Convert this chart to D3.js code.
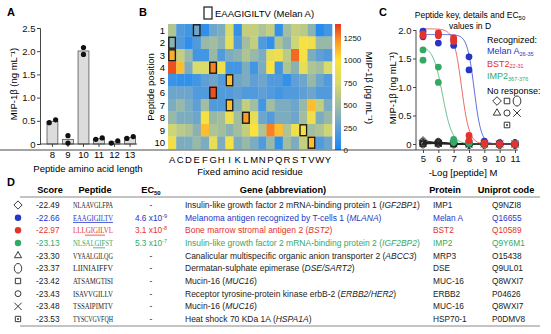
<!DOCTYPE html>
<html>
<head>
<meta charset="utf-8">
<script src="https://cdn.jsdelivr.net/npm/d3@7"></script>
<style>
  html, body { margin: 0; padding: 0; background: #fff; }
  svg { display: block; font-family: "Liberation Sans", Arial, sans-serif; }
</style>
</head>
<body>
<svg id="fig" width="551" height="334"></svg>
<script>
// panel A: MIP-1b release by peptide length (duplicate wells)
const lengths = [8, 9, 10, 11, 12, 13];
const lengthReps = [[0.46, 0.52], [0.18, 0.02], [2.08, 1.93], [0.10, 0.13], [0.02, 0.07], [0.12, 0.16]];

// panel B: positional scan, MIP-1b in pg/mL, rows = position 1..10
const residues = 'ACDEFGHIKLMNPQRSTVWY'.split('');
const positions = [1, 2, 3, 4, 5, 6, 7, 8, 9, 10];
const nativeSeq = 'EAAGIGILTV';
const scanValues = [
  [550, 200, 150, 300, 80, 300, 350, 750, 100, 650, 650, 550, 650, 100, 500, 650, 600, 400, 50, 150],
  [400, 200, 80, 200, 450, 500, 400, 850, 200, 500, 650, 200, 100, 550, 400, 700, 950, 900, 450, 450],
  [1150, 650, 450, 150, 150, 450, 200, 350, 400, 550, 450, 350, 850, 900, 600, 1300, 950, 350, 250, 200],
  [1350, 1100, 350, 750, 750, 1250, 900, 150, 150, 350, 150, 350, 1000, 150, 550, 400, 850, 550, 500, 750],
  [120, 100, 100, 150, 250, 300, 200, 1100, 300, 350, 250, 300, 200, 200, 100, 250, 300, 450, 300, 200],
  [300, 300, 300, 200, 200, 1350, 200, 200, 250, 200, 200, 250, 200, 150, 200, 200, 250, 300, 200, 200],
  [350, 450, 350, 250, 500, 200, 200, 1100, 350, 650, 500, 150, 500, 350, 350, 300, 450, 1100, 650, 350],
  [450, 350, 350, 300, 950, 450, 500, 900, 500, 1200, 850, 300, 200, 350, 350, 300, 500, 900, 350, 450],
  [700, 600, 550, 400, 1100, 550, 500, 400, 500, 650, 1000, 550, 1250, 1100, 550, 900, 950, 500, 550, 700],
  [900, 350, 350, 450, 350, 850, 350, 950, 350, 450, 350, 200, 450, 100, 500, 350, 650, 1100, 200, 300]
];
const colorTicks = [0, 250, 500, 750, 1000, 1250];
const colorStops = [0, 250, 450, 750, 1000, 1200, 1400];
const colorStopColors = ['#1888f5', '#5f9fd6', '#98b8a8', '#d9db6a', '#fde23a', '#fb9a26', '#e6381e'];

// panel C: titration, replicates per dose (-log M)
const doses = [5, 6, 7, 8, 9, 10, 11];
const melanA = [[1.98, 1.88], [1.92, 1.77], [1.83, 1.73], [1.53, 1.30], [0.05, 0.02], [0.01, 0], [0, 0]];
const bst2 = [[1.93, 1.90], [1.95, 1.90], [1.86, 1.80], [0.15, 0.06], [0.02, 0], [0, 0], [0, 0]];
const imp2 = [[1.65, 1.47], [1.35, 1.08], [0.08, 0.03], [0.02, 0.01], [0, 0], [0, 0], [0, 0]];
const curveTops = [1.92, 2.02, 1.72];
const curveHill = [1.9, 1.7, 1.4];
const noResponse = [
  [0.06, 0.02, 0.01, 0, 0, 0, 0],
  [0.02, 0.03, 0, 0, 0, 0.01, 0],
  [0.01, 0.02, 0.01, 0, 0, 0, 0],
  [0.03, 0, 0, 0.01, 0, 0, 0],
  [0, 0.04, 0, 0, 0, 0, 0],
  [0.01, 0.01, 0, 0, 0, 0, 0],
  [0, 0.01, 0, 0, 0, 0, 0]
];
const noResponseSymbols = ['diamond', 'square', 'hexagon', 'triangle', 'smallcircle', 'times', 'squaredot'];

// panel D: candidate peptide table
const tableSymbols = ['diamond', 'blue', 'red', 'green', 'triangle', 'hexagon', 'square', 'smallcircle', 'times', 'squaredot'];
const scores = [-22.49, -22.66, -22.97, -23.13, -23.30, -23.37, -23.42, -23.43, -23.48, -23.53];
const peptides = ['NLAAVGLFPA', 'EAAGIGILTV', 'LLLGIGILVL', 'NLSALGIFST', 'VYAALGILQG', 'LIINIAIFFV', 'ATSAMGTISI', 'ISAVVGILLV', 'TSSAIPIMTV', 'TYSCVGVFQH'];
const underlines = [null, [0, 10], [3, 8], [5, 8], null, null, null, null, null, null];
const ec50s = [null, 4.6e-9, 3.1e-8, 5.3e-7, null, null, null, null, null, null];
const geneNames = [
  'Insulin-like growth factor 2 mRNA-binding protein 1',
  'Melanoma antigen recognized by T-cells 1',
  'Bone marrow stromal antigen 2',
  'Insulin-like growth factor 2 mRNA-binding protein 2',
  'Canalicular multispecific organic anion transporter 2',
  'Dermatan-sulphate epimerase',
  'Mucin-16',
  'Receptor tyrosine-protein kinase erbB-2',
  'Mucin-16',
  'Heat shock 70 KDa 1A'
];
const geneAbbr = ['IGF2BP1', 'MLANA', 'BST2', 'IGF2BP2', 'ABCC3', 'DSE/SART2', 'MUC16', 'ERBB2/HER2', 'MUC16', 'HSPA1A'];
const proteins = ['IMP1', 'Melan A', 'BST2', 'IMP2', 'MRP3', 'DSE', 'MUC-16', 'ERBB2', 'MUC-16', 'HSP70-1'];
const uniprot = ['Q9NZI8', 'Q16655', 'Q10589', 'Q9Y6M1', 'O15438', 'Q9UL01', 'Q8WXI7', 'P04626', 'Q8WXI7', 'P0DMV8'];

const BLUE = '#2436c8', RED = '#e5322b', GREEN = '#35a866';
const rowColors = [null, BLUE, RED, GREEN];

const svg = d3.select('#fig');

function panelLabel(t, x, y) {
  svg.append('text').attr('x', x).attr('y', y).attr('font-size', 11).attr('font-weight', 'bold').text(t);
}

// open / filled markers shared by panels C and D
function marker(g, type, x, y, s) {
  const m = g.append('g').attr('transform', `translate(${x},${y})`)
    .attr('fill', 'none').attr('stroke', '#222').attr('stroke-width', 0.9);
  s = s || 1;
  if (type === 'diamond') m.append('path').attr('d', d3.symbol(d3.symbolDiamond2, 36 * s)());
  else if (type === 'square') m.append('path').attr('d', d3.symbol(d3.symbolSquare2, 30 * s)());
  else if (type === 'triangle') m.append('path').attr('d', d3.symbol(d3.symbolTriangle2, 30 * s)());
  else if (type === 'times') m.append('path').attr('d', d3.symbol(d3.symbolTimes, 30 * s)());
  else if (type === 'smallcircle') m.append('circle').attr('r', 2.7 * Math.sqrt(s));
  else if (type === 'hexagon') m.append('ellipse').attr('rx', 3.4 * Math.sqrt(s)).attr('ry', 4.4 * Math.sqrt(s));
  else if (type === 'squaredot') {
    m.append('path').attr('d', d3.symbol(d3.symbolSquare2, 30 * s)());
    m.append('circle').attr('r', 0.9).attr('fill', '#222').attr('stroke', 'none');
  } else {
    m.append('circle').attr('r', 3.4 * Math.sqrt(s)).attr('fill', type).attr('stroke', 'none');
  }
  return m;
}

function styleAxis(g) {
  g.selectAll('path.domain').attr('stroke', '#333').attr('stroke-width', 0.9);
  g.selectAll('.tick line').attr('stroke', '#333').attr('stroke-width', 0.9);
  g.selectAll('.tick text').attr('fill', '#111').attr('font-family', '"Liberation Sans", Arial, sans-serif');
}

const fmtTick = d => d === 0 ? '0' : d3.format('.1f')(d);

// ---------- A ----------
panelLabel('A', 7, 16);
{
  const y = d3.scaleLinear().domain([0, 2.5]).range([144, 28]);
  const x = d3.scaleBand().domain(lengths).range([47, 135.5]).paddingInner(0.3).paddingOuter(0);
  const g = svg.append('g');

  g.append('g').attr('transform', 'translate(40,0)')
    .call(d3.axisLeft(y).tickValues([0, 0.5, 1, 1.5, 2, 2.5]).tickFormat(fmtTick).tickSize(3).tickPadding(1.5))
    .attr('font-size', 9.5).call(styleAxis);

  g.selectAll('rect.bar').data(lengths).join('rect')
    .attr('x', d => x(d)).attr('width', x.bandwidth())
    .attr('y', (d, i) => y(d3.mean(lengthReps[i])))
    .attr('height', (d, i) => y(0) - y(d3.mean(lengthReps[i])))
    .attr('fill', '#dcdcdc').attr('stroke', '#555').attr('stroke-width', 0.8);

  const xa = g.append('g').attr('transform', `translate(0,${y(0)})`);
  xa.append('line').attr('x1', 40).attr('x2', 137).attr('stroke', '#333').attr('stroke-width', 0.9);
  xa.selectAll('line.t').data(lengths).join('line').attr('class', 't')
    .attr('x1', d => x(d) + x.bandwidth() / 2).attr('x2', d => x(d) + x.bandwidth() / 2)
    .attr('y2', 3).attr('stroke', '#333').attr('stroke-width', 0.9);
  xa.selectAll('text').data(lengths).join('text')
    .attr('x', d => x(d) + x.bandwidth() / 2).attr('y', 14).attr('text-anchor', 'middle')
    .attr('font-size', 9.5).text(d => d);

  lengthReps.forEach((reps, i) => {
    const cx = x(lengths[i]) + x.bandwidth() / 2;
    const close = Math.abs(y(reps[0]) - y(reps[1])) < 5;
    reps.forEach((v, k) => {
      g.append('circle').attr('cx', close ? cx + (k ? 3.2 : -3.2) : cx).attr('cy', y(v))
        .attr('r', 2.6).attr('fill', '#111');
    });
  });

  svg.append('text').attr('x', 88).attr('y', 172).attr('text-anchor', 'middle')
    .attr('font-size', 9.5).text('Peptide amino acid length');
  svg.append('text').attr('transform', 'translate(17,84) rotate(-90)').attr('text-anchor', 'middle')
    .attr('font-size', 9.5).text('MIP-1β (ng mL⁻¹)');
}

// ---------- B ----------
panelLabel('B', 139, 16);
{
  const x = d3.scaleBand().domain(residues).range([168, 332]);
  const y = d3.scaleBand().domain(positions).range([24, 149]);
  const color = d3.scaleLinear().domain(colorStops).range(colorStopColors).clamp(true);
  const g = svg.append('g');

  const cells = [];
  scanValues.forEach((row, r) => row.forEach((v, c) => cells.push({ pos: positions[r], res: residues[c], v })));
  g.selectAll('rect.cell').data(cells).join('rect')
    .attr('x', d => x(d.res)).attr('y', d => y(d.pos))
    .attr('width', x.bandwidth() + 0.3).attr('height', y.bandwidth() + 0.3)
    .attr('fill', d => color(d.v));

  // native Melan A residues outlined
  g.selectAll('rect.native').data(nativeSeq.split('')).join('rect')
    .attr('x', d => x(d) + 0.8).attr('y', (d, i) => y(positions[i]) + 0.8)
    .attr('width', x.bandwidth() - 1.6).attr('height', y.bandwidth() - 1.6)
    .attr('fill', 'none').attr('stroke', '#1a1a1a').attr('stroke-width', 1.4);

  g.selectAll('text.row').data(positions).join('text')
    .attr('x', 165).attr('y', d => y(d) + y.bandwidth() / 2 + 3.4).attr('text-anchor', 'end')
    .attr('font-size', 9.5).text(d => d);
  g.selectAll('text.col').data(residues).join('text')
    .attr('x', d => x(d) + x.bandwidth() / 2).attr('y', 163).attr('text-anchor', 'middle')
    .attr('font-size', 9.5).text(d => d);

  svg.append('text').attr('x', 250).attr('y', 175).attr('text-anchor', 'middle')
    .attr('font-size', 9.5).text('Fixed amino acid residue');
  svg.append('text').attr('transform', 'translate(154,87) rotate(-90)').attr('text-anchor', 'middle')
    .attr('font-size', 9.5).text('Peptide position');

  svg.append('rect').attr('x', 204).attr('y', 7).attr('width', 8).attr('height', 12)
    .attr('fill', 'none').attr('stroke', '#1a1a1a').attr('stroke-width', 1.2);
  svg.append('text').attr('x', 215).attr('y', 17).attr('font-size', 9.5).text('EAAGIGILTV (Melan A)');

  // colour bar
  const cy = d3.scaleLinear().domain([0, 1400]).range([150, 24]);
  const grad = svg.append('defs').append('linearGradient').attr('id', 'cbar')
    .attr('x1', 0).attr('y1', 1).attr('x2', 0).attr('y2', 0);
  d3.range(0, 1401, 50).forEach(v => grad.append('stop').attr('offset', v / 1400).attr('stop-color', color(v)));
  svg.append('rect').attr('x', 335).attr('y', 24).attr('width', 6).attr('height', 126).attr('fill', 'url(#cbar)');
  svg.append('g').attr('transform', 'translate(341,0)')
    .call(d3.axisRight(cy).tickValues(colorTicks).tickFormat(d3.format('d')).tickSize(0).tickPadding(2.5))
    .attr('font-size', 8).call(styleAxis).call(a => a.select('path.domain').remove());
  svg.append('text').attr('transform', 'translate(366,88) rotate(90)').attr('text-anchor', 'middle')
    .attr('font-size', 9.5).text('MIP-1β (pg mL⁻¹)');
}

// ---------- C ----------
panelLabel('C', 379, 16);
{
  const x = d3.scaleLinear().domain([5, 11]).range([423, 515]);
  const y = d3.scaleLinear().domain([0, 2]).range([144, 30]);
  const g = svg.append('g');

  g.append('g').attr('transform', 'translate(416,0)')
    .call(d3.axisLeft(y).tickValues([0, 0.5, 1, 1.5, 2]).tickFormat(fmtTick).tickSize(3).tickPadding(1.5))
    .attr('font-size', 9.5).call(styleAxis)
    .call(a => a.select('path.domain').attr('d', 'M0,30V150'));
  g.append('g').attr('transform', 'translate(0,150)')
    .call(d3.axisBottom(x).tickValues(doses).tickFormat(d3.format('d')).tickSize(3).tickPadding(2))
    .attr('font-size', 9.5).call(styleAxis)
    .call(a => a.select('path.domain').attr('d', 'M-3,0H518'));

  // non-responding peptides, flat at baseline
  noResponse.forEach((vals, k) => {
    g.append('path').datum(vals)
      .attr('d', d3.line().x((v, i) => x(doses[i])).y(v => y(v)))
      .attr('fill', 'none').attr('stroke', '#222').attr('stroke-width', 1);
    vals.forEach((v, i) => marker(g, noResponseSymbols[k], x(doses[i]), y(v), 1.1));
  });

  const series = [imp2, melanA, bst2];
  const seriesColors = [GREEN, BLUE, RED];
  const seriesEc = [ec50s[3], ec50s[1], ec50s[2]];
  const seriesTop = [curveTops[2], curveTops[0], curveTops[1]];
  const seriesHill = [curveHill[2], curveHill[0], curveHill[1]];
  const xs = d3.range(5, 11.001, 0.05);
  series.forEach((s, k) => {
    const pec = -Math.log10(seriesEc[k]);
    const fit = t => seriesTop[k] / (1 + Math.pow(10, seriesHill[k] * (t - pec)));
    g.append('path').datum(xs)
      .attr('d', d3.line().x(t => x(t)).y(t => y(fit(t))))
      .attr('fill', 'none').attr('stroke', seriesColors[k]).attr('stroke-width', 0.9).attr('opacity', 0.8);
  });
  series.forEach((s, k) => {
    s.forEach((reps, i) => reps.forEach(v => {
      g.append('circle').attr('cx', x(doses[i])).attr('cy', y(v)).attr('r', 3.4).attr('fill', seriesColors[k]);
    }));
  });

  svg.append('text').attr('x', 463).attr('y', 176).attr('text-anchor', 'middle')
    .attr('font-size', 9.5).text('-Log [peptide] M');
  svg.append('text').attr('transform', 'translate(396,88) rotate(-90)').attr('text-anchor', 'middle')
    .attr('font-size', 9.5).text('MIP-1β (ng mL⁻¹)');

  const t1 = svg.append('text').attr('x', 470).attr('y', 18).attr('text-anchor', 'middle').attr('font-size', 8.5);
  t1.append('tspan').text('Peptide key, details and EC');
  t1.append('tspan').attr('font-size', 6).attr('dy', 2).text('50');
  svg.append('text').attr('x', 470).attr('y', 29).attr('text-anchor', 'middle').attr('font-size', 8.5).text('values in D');

  svg.append('text').attr('x', 487).attr('y', 43).attr('font-size', 9).text('Recognized:');
  [['Melan A', '26-35', BLUE], ['BST2', '22-31', RED], ['IMP2', '367-376', GREEN]].forEach((d, i) => {
    const t = svg.append('text').attr('x', 487).attr('y', 54 + i * 12.7).attr('font-size', 9).attr('fill', d[2]);
    t.append('tspan').text(d[0]);
    t.append('tspan').attr('font-size', 5.5).attr('dy', 1.5).text(d[1]);
  });
  svg.append('text').attr('x', 487).attr('y', 94).attr('font-size', 9).text('No response:');
  const legendSpots = [[497, 101], [507, 101], [517, 101], [497, 113], [507, 113], [517, 113], [507, 125]];
  ['diamond', 'square', 'hexagon', 'triangle', 'smallcircle', 'times', 'squaredot']
    .forEach((s, i) => marker(svg, s, legendSpots[i][0], legendSpots[i][1], 1.3));
}

// ---------- D ----------
panelLabel('D', 7, 186);
{
  const rowY = d3.scalePoint().domain(d3.range(scores.length)).range([205, 319]);
  const g = svg.append('g');
  const head = [['Score', 50], ['Peptide', 95], ['EC', 151], ['Gene (abbreviation)', 283], ['Protein', 445], ['Uniprot code', 506]];
  head.forEach(([t, hx]) => {
    const h = g.append('text').attr('x', hx).attr('y', 193).attr('text-anchor', 'middle')
      .attr('font-size', 9.2).attr('font-weight', 'bold');
    h.append('tspan').text(t);
    if (t === 'EC') h.append('tspan').attr('font-size', 6).attr('dy', 2).text('50');
  });
  g.append('line').attr('x1', 20).attr('x2', 540).attr('y1', 197).attr('y2', 197).attr('stroke', '#888').attr('stroke-width', 1);
  g.append('line').attr('x1', 20).attr('x2', 540).attr('y1', 326).attr('y2', 326).attr('stroke', '#888').attr('stroke-width', 1);

  scores.forEach((sc, i) => {
    const cy = rowY(i);
    const col = rowColors[i] || '#222';
    const sym = tableSymbols[i];
    if (sym === 'blue' || sym === 'red' || sym === 'green') marker(g, rowColors[i], 18, cy, 0.9);
    else marker(g, sym, 18, cy, 1.2);

    const base = cy + 3;
    g.append('text').attr('x', 36).attr('y', base).attr('font-size', 8.3).attr('fill', col).text(sc.toFixed(2));

    const pepW = 40;
    g.append('text').attr('x', 73).attr('y', base).attr('font-size', 7.6)
      .attr('font-family', '"Liberation Serif", "Times New Roman", serif')
      .attr('textLength', pepW).attr('lengthAdjust', 'spacingAndGlyphs')
      .attr('fill', col).text(peptides[i]);
    if (underlines[i]) {
      const cw = pepW / peptides[i].length;
      g.append('line').attr('x1', 73 + underlines[i][0] * cw).attr('x2', 73 + underlines[i][1] * cw)
        .attr('y1', base + 1.8).attr('y2', base + 1.8).attr('stroke', col).attr('stroke-width', 0.8);
    }

    const ec = g.append('text').attr('x', 151).attr('y', base).attr('text-anchor', 'middle')
      .attr('font-size', 8.3).attr('fill', col);
    if (ec50s[i] === null) ec.text('-');
    else {
      const e = Math.floor(Math.log10(ec50s[i]));
      const m = ec50s[i] / Math.pow(10, e);
      ec.append('tspan').text(m.toFixed(1) + ' x10');
      ec.append('tspan').attr('font-size', 5.5).attr('dy', -3).text(String(e));
    }

    const gt = g.append('text').attr('x', 185).attr('y', base).attr('font-size', 8.5).attr('fill', col);
    gt.append('tspan').text(geneNames[i] + ' (');
    gt.append('tspan').attr('font-style', 'italic').text(geneAbbr[i]);
    gt.append('tspan').text(')');

    g.append('text').attr('x', 433).attr('y', base).attr('font-size', 8.3).attr('fill', col).text(proteins[i]);
    g.append('text').attr('x', 492).attr('y', base).attr('font-size', 8.3).attr('fill', col).text(uniprot[i]);
  });
}
</script>
</body>
</html>
